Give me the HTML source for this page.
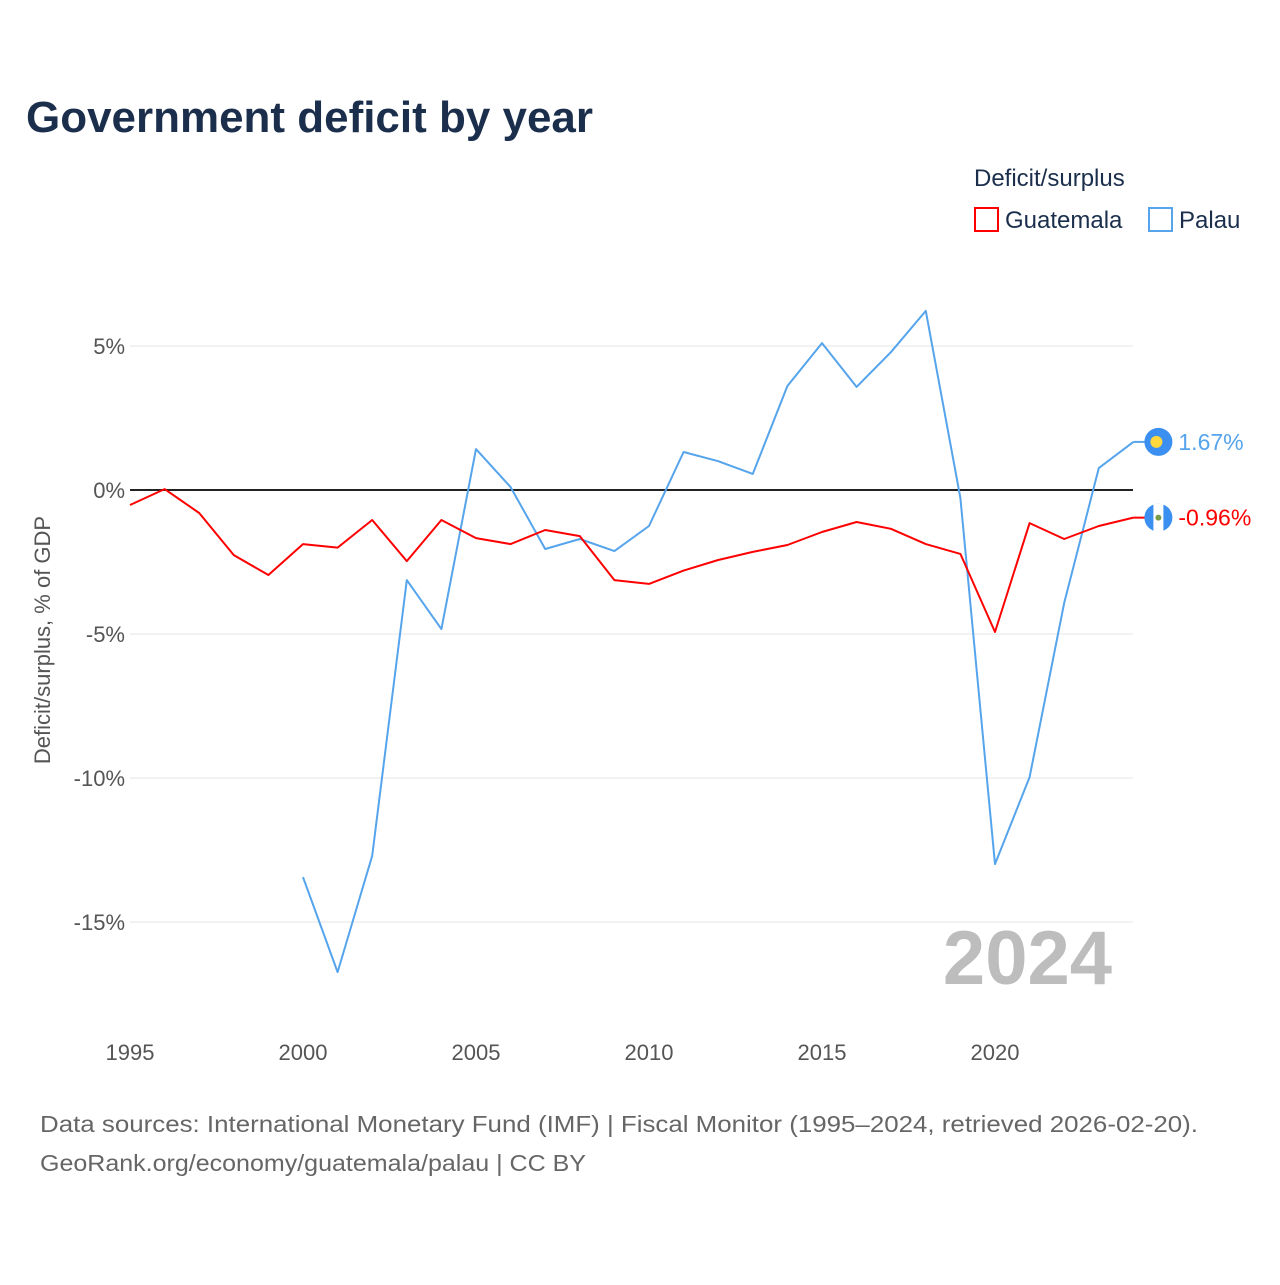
<!DOCTYPE html>
<html><head><meta charset="utf-8"><style>
body{margin:0;background:#fff;font-family:"Liberation Sans",sans-serif;}
</style></head><body>
<svg width="1280" height="1280" viewBox="0 0 1280 1280" xmlns="http://www.w3.org/2000/svg" font-family="Liberation Sans, sans-serif">
<text x="26" y="132" font-size="44" font-weight="bold" fill="#1b2f4d" textLength="567" lengthAdjust="spacingAndGlyphs">Government deficit by year</text>
<text x="974" y="186" font-size="24" fill="#1b2f4d">Deficit/surplus</text>
<g><rect x="975" y="208" width="23" height="23" fill="none" stroke="#ff0000" stroke-width="2"/><text x="1005" y="228" font-size="24" fill="#1b2f4d">Guatemala</text></g>
<g><rect x="1149" y="208" width="23" height="23" fill="none" stroke="#55a4ec" stroke-width="2"/><text x="1179" y="228" font-size="24" fill="#1b2f4d">Palau</text></g>
<g id="grid"></g><g id="xticks"></g><g id="lines"></g>
<text transform="translate(50,640) rotate(-90)" text-anchor="middle" font-size="22" fill="#555">Deficit/surplus, % of GDP</text>
<text x="1112" y="984" text-anchor="end" font-size="76" font-weight="bold" fill="#bdbdbd">2024</text>
<text x="40" y="1132" font-size="23" fill="#666" textLength="1158" lengthAdjust="spacingAndGlyphs">Data sources: International Monetary Fund (IMF) | Fiscal Monitor (1995–2024, retrieved 2026-02-20).</text>
<text x="40" y="1171" font-size="23" fill="#666" textLength="546" lengthAdjust="spacingAndGlyphs">GeoRank.org/economy/guatemala/palau | CC BY</text>
</svg>
<script>
const years=[];for(let y=1995;y<=2024;y++)years.push(y);
const guatemala=[-0.52,0.03,-0.8,-2.26,-2.95,-1.88,-2.0,-1.04,-2.47,-1.04,-1.67,-1.88,-1.39,-1.6,-3.13,-3.26,-2.8,-2.43,-2.15,-1.91,-1.46,-1.11,-1.35,-1.88,-2.22,-4.93,-1.15,-1.7,-1.25,-0.96];
const palau=[null,null,null,null,null,-13.44,-16.74,-12.7,-3.13,-4.83,1.42,0.1,-2.05,-1.7,-2.12,-1.25,1.32,1.0,0.56,3.61,5.1,3.58,4.8,6.22,-0.28,-12.99,-9.97,-3.92,0.76,1.67];
const yTicks=[5,0,-5,-10,-15];
const xTicks=[1995,2000,2005,2010,2015,2020];
const X=y=>130+(y-1995)*(1133.4-130)/29;
const Y=v=>490-v*28.8;
const NS="http://www.w3.org/2000/svg";
function mk(t,a,p){const e=document.createElementNS(NS,t);for(const k in a)e.setAttribute(k,a[k]);p.appendChild(e);return e;}
const grid=document.getElementById('grid');
yTicks.forEach(v=>{
 const l=mk('line',{x1:130,x2:1133,y1:Y(v),y2:Y(v),stroke:v===0?'#222':'#e6e6e6','stroke-width':v===0?2:1},grid);
 
 
 const t=mk('text',{x:125,y:Y(v)+8,'text-anchor':'end','font-size':22,fill:'#555'},grid);
 t.textContent=v+'%';
 
 
});
const xt=document.getElementById('xticks');
xTicks.forEach(y=>{
 const t=mk('text',{x:X(y),y:1060,'text-anchor':'middle','font-size':22,fill:'#555'},xt);
 t.textContent=y;
 
 
});
const lines=document.getElementById('lines');
function series(vals,color,name){
 let d='';vals.forEach((v,i)=>{if(v===null)return;d+=(d?'L':'M')+X(years[i]).toFixed(1)+','+Y(v).toFixed(1);});
 const p=mk('path',{d:d,fill:'none',stroke:color,'stroke-width':2,'stroke-linejoin':'round'},lines);
 
 
 const last=vals[vals.length-1];const x=X(2024),y=Y(last);
 mk('line',{x1:x,x2:x+12,y1:y,y2:y,stroke:color,'stroke-width':2},lines);
 const c=mk('circle',{cx:x+25,cy:y,r:14,fill:'#3b8ff0'},lines);
 
 
 if(name==='palau')mk('circle',{cx:x+23,cy:y,r:6,fill:'#ffd83d'},lines);
 else{mk('rect',{x:x+20,y:y-14,width:10,height:28,fill:'#fff'},lines);mk('circle',{cx:x+25,cy:y,r:3,fill:'#7a9c4a'},lines);}
 const t=mk('text',{x:x+45,y:y+8,'font-size':23,fill:color},lines);
 t.textContent=last.toFixed(2)+'%';
 
 
}
series(palau,'#55a4ec','palau');
series(guatemala,'#ff0000','guatemala');
</script>
</body></html>
